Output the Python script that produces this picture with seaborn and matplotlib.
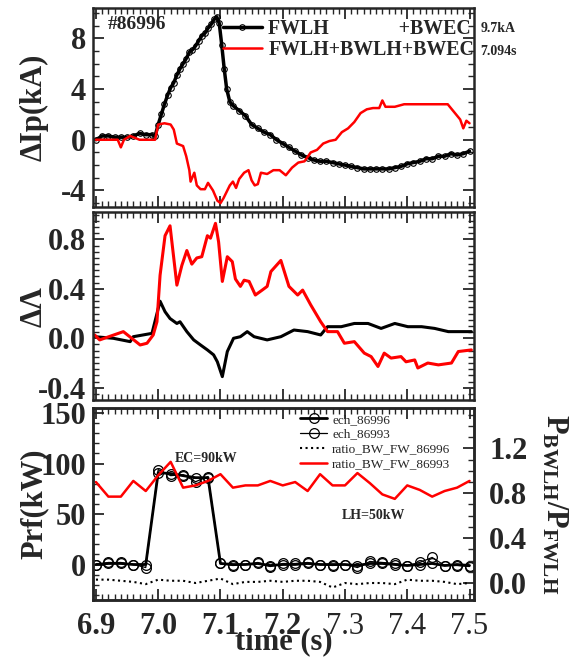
import numpy as np
import pandas as pd
import matplotlib
matplotlib.use("Agg")
import matplotlib.pyplot as plt
import seaborn as sns
from matplotlib.ticker import MultipleLocator
from matplotlib.lines import Line2D

# ==========================================
# DATOS
# ==========================================
# Panel 1: delta Ip (kA)
t_ip_fw = [6.900, 6.910, 6.920, 6.930, 6.940, 6.950, 6.960, 6.970, 6.980, 6.990,
           6.995, 7.000, 7.005, 7.010, 7.015, 7.020, 7.025, 7.030, 7.035, 7.040,
           7.045, 7.050, 7.055, 7.060, 7.065, 7.070, 7.075, 7.080, 7.085, 7.090,
           7.094, 7.098, 7.102, 7.106, 7.110, 7.115, 7.120, 7.130, 7.140, 7.150,
           7.160, 7.170, 7.180, 7.190, 7.200, 7.210, 7.220, 7.230, 7.240, 7.250,
           7.260, 7.270, 7.280, 7.290, 7.300, 7.310, 7.320, 7.330, 7.340, 7.350,
           7.360, 7.370, 7.380, 7.390, 7.400, 7.410, 7.420, 7.430, 7.440, 7.450,
           7.460, 7.470, 7.480, 7.490, 7.500]
ip_fw = [0.0, 0.3, 0.3, 0.2, 0.2, 0.2, 0.3, 0.5, 0.4, 0.4,
         0.3, 1.2, 2.0, 2.8, 3.5, 4.1, 4.5, 5.1, 5.6, 6.0,
         6.4, 6.9, 7.1, 7.4, 7.8, 8.2, 8.4, 8.8, 9.1, 9.5,
         9.7, 9.2, 7.5, 5.6, 4.0, 3.0, 2.7, 2.3, 1.9, 1.2,
         0.9, 0.6, 0.4, 0.0, -0.3, -0.6, -0.9, -1.2, -1.4, -1.6,
         -1.7, -1.7, -1.8, -1.9, -2.0, -2.1, -2.2, -2.3, -2.3, -2.3,
         -2.3, -2.3, -2.2, -2.1, -1.9, -1.8, -1.7, -1.5, -1.5, -1.3,
         -1.3, -1.1, -1.2, -1.1, -0.9]

t_ip_bw = [6.900, 6.920, 6.935, 6.940, 6.945, 6.955, 6.970, 6.995, 7.000, 7.010,
           7.020, 7.025, 7.030, 7.040, 7.045, 7.050, 7.052, 7.058, 7.062, 7.068,
           7.075, 7.080, 7.088, 7.095, 7.100, 7.105, 7.110, 7.115, 7.120, 7.125,
           7.130, 7.138, 7.145, 7.150, 7.155, 7.160, 7.165, 7.175, 7.185, 7.195,
           7.205, 7.215, 7.225, 7.235, 7.245, 7.255, 7.265, 7.275, 7.285, 7.295,
           7.305, 7.315, 7.325, 7.335, 7.345, 7.355, 7.360, 7.365, 7.380, 7.395,
           7.420, 7.445, 7.465, 7.475, 7.485, 7.490, 7.495, 7.500]
ip_bw = [0.0, 0.0, 0.0, -0.6, 0.0, 0.3, 0.0, 0.0, 1.2, 1.3,
         1.2, 0.8, -0.3, -0.5, -1.3, -2.4, -3.3, -2.6, -3.6, -3.9,
         -3.9, -3.4, -4.0, -4.8, -5.0, -4.6, -4.1, -3.6, -3.3, -3.8,
         -3.1, -2.6, -2.4, -3.2, -3.6, -3.5, -2.6, -2.7, -2.4, -2.4,
         -2.8, -2.2, -1.8, -1.7, -1.0, -0.8, -0.3, -0.1, 0.0, 0.6,
         0.9, 1.4, 2.1, 2.4, 2.5, 2.5, 3.1, 2.6, 2.6, 2.8,
         2.8, 2.8, 2.8, 2.2, 1.6, 0.9, 1.5, 1.3]

# Panel 2: delta Lambda
t_lam_fw = [6.898, 6.928, 6.955, 6.960, 6.990, 7.003, 7.011, 7.019, 7.030, 7.035,
            7.046, 7.057, 7.068, 7.079, 7.089, 7.095, 7.103, 7.111, 7.121, 7.132,
            7.143, 7.154, 7.175, 7.197, 7.218, 7.240, 7.261, 7.272, 7.294, 7.315,
            7.337, 7.358, 7.380, 7.401, 7.423, 7.444, 7.466, 7.487, 7.503]
lam_fw = [0.013, 0.0, -0.027, 0.013, 0.04, 0.30, 0.215, 0.16, 0.12, 0.134,
          0.054, -0.013, -0.054, -0.094, -0.134, -0.19, -0.31, -0.107, 0.0, 0.013,
          0.054, 0.013, -0.013, 0.013, 0.067, 0.054, 0.027, 0.094, 0.094, 0.12,
          0.12, 0.08, 0.12, 0.094, 0.094, 0.08, 0.054, 0.054, 0.054]

t_lam_bw = [6.898, 6.906, 6.944, 6.971, 6.982, 6.992, 6.998, 7.003, 7.011, 7.019,
            7.030, 7.038, 7.046, 7.054, 7.062, 7.070, 7.079, 7.084, 7.092, 7.097,
            7.103, 7.111, 7.119, 7.124, 7.132, 7.138, 7.146, 7.156, 7.167, 7.175,
            7.181, 7.197, 7.210, 7.224, 7.232, 7.245, 7.261, 7.272, 7.288, 7.299,
            7.315, 7.331, 7.342, 7.353, 7.363, 7.374, 7.390, 7.398, 7.412, 7.417,
            7.433, 7.450, 7.471, 7.482, 7.503]
lam_bw = [0.027, -0.013, 0.054, -0.054, -0.04, 0.027, 0.134, 0.51, 0.83, 0.91,
          0.43, 0.59, 0.71, 0.60, 0.65, 0.66, 0.83, 0.81, 0.93, 0.78,
          0.46, 0.66, 0.62, 0.48, 0.42, 0.47, 0.46, 0.35, 0.39, 0.42,
          0.54, 0.63, 0.42, 0.35, 0.39, 0.27, 0.134, 0.054, 0.054, -0.04,
          -0.027, -0.12, -0.148, -0.228, -0.12, -0.16, -0.148, -0.19, -0.175, -0.24,
          -0.20, -0.215, -0.20, -0.107, -0.094]

# Panel 3: potencia RF (kW) y cociente P_BWLH/P_FWLH
t_rf = [6.90, 6.92, 6.94, 6.96, 6.98, 7.00, 7.02, 7.04, 7.06, 7.08,
        7.10, 7.12, 7.14, 7.16, 7.18, 7.20, 7.22, 7.24, 7.26, 7.28,
        7.30, 7.32, 7.34, 7.36, 7.38, 7.40, 7.42, 7.44, 7.46, 7.48, 7.50]
ech_86996 = [0, 1, 1, 0, 0, 91, 90, 88, 86, 86,
             1, 0, 0, 1, -1, 0, 0, 1, 0, 0,
             0, -1, 1, 1, 0, -1, 0, 1, -1, 0, -1]
ech_86993 = [0, 2, 2, 0, -3, 94, 88, 89, 82, 87,
             1, -1, 0, 2, -2, 1, 1, 2, 0, -1,
             0, -3, 3, 2, 1, -1, 2, 7, -1, -1, -2]
ratio_86996 = [0.03, 0.03, 0.02, 0.01, -0.01, 0.03, 0.02, 0.02, 0.00, 0.02,
               0.04, -0.01, 0.01, 0.01, 0.02, 0.01, 0.02, 0.02, 0.01, -0.04,
               0.00, -0.01, 0.00, 0.00, -0.01, 0.03, 0.02, 0.02, 0.01, -0.01, 0.00]
ratio_86993 = [0.90, 0.77, 0.77, 0.91, 0.82, 0.96, 1.08, 0.85, 0.87, 0.91,
               0.97, 0.85, 0.87, 0.87, 0.91, 0.87, 0.90, 0.82, 0.97, 0.87,
               0.87, 0.98, 0.89, 0.79, 0.75, 0.87, 0.83, 0.77, 0.82, 0.85, 0.91]

# ==========================================
# ESTILO
# ==========================================
sns.set_style("ticks")
plt.rcParams['font.family'] = ['Liberation Serif', 'DejaVu Serif']
plt.rcParams['mathtext.fontset'] = 'custom'
plt.rcParams['mathtext.rm'] = 'Liberation Serif'
plt.rcParams['mathtext.bf'] = 'Liberation Serif:bold'
plt.rcParams['axes.linewidth'] = 1.8
plt.rcParams['axes.unicode_minus'] = False

TICK_FS = 22
fig = plt.figure(figsize=(5.73, 6.57), dpi=100)
ax1 = fig.add_axes([0.162, 0.685, 0.665, 0.303])
ax2 = fig.add_axes([0.162, 0.391, 0.665, 0.286])
ax3 = fig.add_axes([0.162, 0.087, 0.665, 0.292])
ax4 = ax3.twinx()


def estilo(ax, right=True):
    ax.tick_params(which='both', direction='in', top=True, right=right)
    ax.tick_params(which='major', length=8, width=1.3, labelsize=TICK_FS, pad=5)
    ax.tick_params(which='minor', length=4, width=1.0)
    for lab in ax.get_xticklabels() + ax.get_yticklabels():
        lab.set_fontweight('bold')
    ax.xaxis.set_major_locator(MultipleLocator(0.1))
    ax.xaxis.set_minor_locator(MultipleLocator(0.01))
    ax.set_xlim(6.895, 7.507)


# --- Panel 1 ---
df1 = pd.DataFrame({'t': t_ip_fw, 'v': ip_fw})
df2 = pd.DataFrame({'t': t_ip_bw, 'v': ip_bw})
sns.lineplot(data=df1, x='t', y='v', ax=ax1, color='k', lw=2.5, marker='o',
             markersize=4, markerfacecolor='none', markeredgecolor='k',
             markeredgewidth=0.8)
sns.lineplot(data=df2, x='t', y='v', ax=ax1, color='red', lw=1.8)
ax1.set_ylim(-5.3, 10.4)
ax1.yaxis.set_major_locator(MultipleLocator(4))
ax1.yaxis.set_minor_locator(MultipleLocator(1))
ax1.set_xlabel('')
ax1.set_ylabel('ΔIp(kA)', fontsize=22, fontweight='bold')
ax1.yaxis.set_label_coords(-0.115, 0.5)
ax1.tick_params(labelbottom=False)
estilo(ax1)
ax1.text(0.04, 0.915, '#86996', transform=ax1.transAxes, fontsize=14,
         fontweight='bold', va='center', ha='left')
h1 = Line2D([], [], color='k', lw=2.5, marker='o', markersize=4,
            markerfacecolor='none', markeredgewidth=0.8)
h2 = Line2D([], [], color='red', lw=1.8)
ax1.legend([h1, h2], ['FWLH              +BWEC', 'FWLH+BWLH+BWEC'],
           loc='upper left', bbox_to_anchor=(0.33, 0.965), frameon=False,
           prop={'size': 14.3, 'weight': 'bold'}, handlelength=2.0,
           handletextpad=0.3, labelspacing=0.05, borderaxespad=0, borderpad=0.2)
fig.text(0.839, 0.957, '9.7kA', fontsize=10, fontweight='bold', va='center')
fig.text(0.839, 0.921, '7.094s', fontsize=10, fontweight='bold', va='center')

# --- Panel 2 ---
df3 = pd.DataFrame({'t': t_lam_fw, 'v': lam_fw})
df4 = pd.DataFrame({'t': t_lam_bw, 'v': lam_bw})
sns.lineplot(data=df3, x='t', y='v', ax=ax2, color='k', lw=2.2)
sns.lineplot(data=df4, x='t', y='v', ax=ax2, color='red', lw=2.2)
ax2.set_ylim(-0.5, 1.02)
ax2.yaxis.set_major_locator(MultipleLocator(0.4))
ax2.yaxis.set_minor_locator(MultipleLocator(0.05))
ax2.set_xlabel('')
ax2.set_ylabel('ΔΛ', fontsize=22, fontweight='bold')
ax2.yaxis.set_label_coords(-0.115, 0.5)
ax2.tick_params(labelbottom=False)
estilo(ax2)
ax2.set_yticks([-0.4, 0.0, 0.4, 0.8])
ax2.set_yticklabels(['-0.4', '0.0', '0.4', '0.8'], fontweight='bold')

# --- Panel 3 ---
df5 = pd.DataFrame({'t': t_rf, 'e96': ech_86996, 'e93': ech_86993,
                    'r96': ratio_86996, 'r93': ratio_86993})
sns.lineplot(data=df5, x='t', y='e96', ax=ax3, color='k', lw=2.0, marker='o',
             markersize=7, markerfacecolor='none', markeredgecolor='k',
             markeredgewidth=0.9, label='ech_86996', legend=False)
sns.lineplot(data=df5, x='t', y='e93', ax=ax3, color='k', lw=0.9, marker='o',
             markersize=7, markerfacecolor='none', markeredgecolor='k',
             markeredgewidth=0.9, label='ech_86993', legend=False)
sns.lineplot(data=df5, x='t', y='r96', ax=ax4, color='k', lw=1.5, ls=':',
             label='ratio_BW_FW_86996', legend=False)
sns.lineplot(data=df5, x='t', y='r93', ax=ax4, color='red', lw=1.8,
             label='ratio_BW_FW_86993', legend=False)
ax3.set_ylim(-35, 155)
ax3.yaxis.set_major_locator(MultipleLocator(50))
ax3.yaxis.set_minor_locator(MultipleLocator(10))
ax3.set_ylabel('Prf(kW)', fontsize=22, fontweight='bold')
ax3.yaxis.set_label_coords(-0.115, 0.5)
ax3.set_xlabel('time (s)', fontsize=22, fontweight='bold', labelpad=-10)
estilo(ax3, right=False)
ax3.tick_params(pad=9, axis='x')

ax4.set_ylim(-0.15, 1.56)
ax4.yaxis.set_major_locator(MultipleLocator(0.4))
ax4.yaxis.set_minor_locator(MultipleLocator(0.1))
ax4.tick_params(which='both', direction='in', right=True)
ax4.tick_params(which='major', length=8, width=1.3, labelsize=TICK_FS, pad=11)
ax4.tick_params(which='minor', length=4, width=1.0)
ax4.set_yticks([0.0, 0.4, 0.8, 1.2])
ax4.set_yticklabels(['0.0', '0.4', '0.8', '1.2'], fontweight='bold')
ax4.set_ylabel(r'$\mathbf{P_{BWLH}/P_{FWLH}}$', fontsize=22, rotation=270)
ax4.yaxis.set_label_coords(1.25, 0.5)
ax4.set_xlim(6.895, 7.507)

ax3.text(7.077, 105, 'EC=90kW', fontsize=10, fontweight='bold', ha='center', va='center')
ax3.text(7.345, 49, 'LH=50kW', fontsize=10, fontweight='bold', ha='center', va='center')

hs = ax3.get_lines()[:2] + ax4.get_lines()[:2]
ax4.legend(hs, [h.get_label() for h in hs], loc='upper right',
           bbox_to_anchor=(0.945, 0.985), frameon=False, fontsize=9.5,
           handlelength=2.0, labelspacing=0.2, borderaxespad=0, borderpad=0.2,
           handletextpad=0.4)

fig.savefig('out.png', dpi=100)
